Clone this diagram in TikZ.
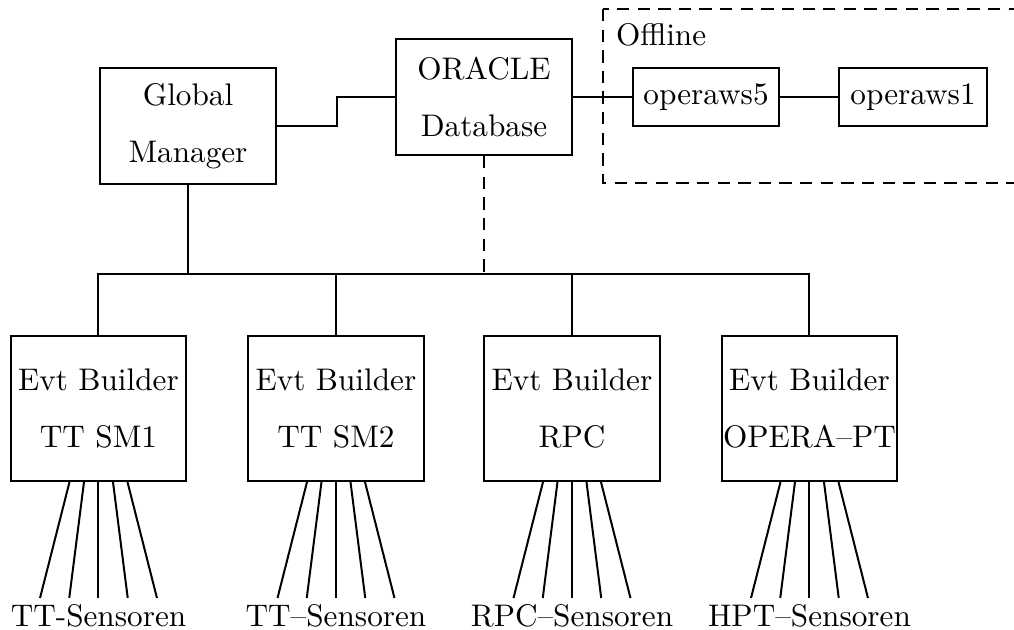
\documentclass[tikz,border=0pt]{standalone}
\begin{document}
\begin{tikzpicture}[x=0.325pt,y=-0.325pt,line width=0.65pt,
  every node/.style={font=\fontsize{10.15pt}{12.2pt}\selectfont},
  box/.style={draw,inner sep=0pt,align=center},
  bigbox/.style={box,minimum width=57.2pt,minimum height=37.8pt},
  evtbox/.style={box,minimum width=56.9pt,minimum height=47.1pt},
  smallbox/.style={box,minimum height=18.9pt},
  sens/.style={inner sep=1.63pt,anchor=north},
  dsh/.style={dash pattern=on 4pt off 2.7pt}]
\useasboundingbox (0,0) rectangle (1014,630);
\clip (0,0) rectangle (1014,630);
% offline region
\draw[dsh] (603,9) rectangle (1040,183);
\node[anchor=west,inner sep=0pt] (offl) at (615,35) {Offline};
% main nodes
\node[bigbox] (GM) at (188,126) {Global\\[6.3pt]Manager};
\node[bigbox] (OR) at (484,97) {ORACLE\\[6.3pt]Database};
\node[smallbox,minimum width=47.5pt] (ow5) at (706,97) {operaws5};
\node[smallbox,minimum width=48.1pt] (ow1) at (913,97) {operaws1};
\node[evtbox] (EB1) at (98.5,408.5) {Evt Builder\\[6.3pt]TT SM1};
\node[evtbox] (EB2) at (336,408.5) {Evt Builder\\[6.3pt]TT SM2};
\node[evtbox] (EB3) at (572,408.5) {Evt Builder\\[6.3pt]RPC};
\node[evtbox] (EB4) at (809.5,408.5) {Evt Builder\\[6.3pt]OPERA--PT};
% sensor labels
\node[sens] (S1) at (98.5,598) {TT-Sensoren};
\node[sens] (S2) at (336,598) {TT--Sensoren};
\node[sens] (S3) at (572,598) {RPC--Sensoren};
\node[sens] (S4) at (809.5,598) {HPT--Sensoren};
% connectors
\coordinate (bus) at (0,274);
\draw (GM.east) -- ++(60,0) |- (OR.west);
\draw (OR.east) -- (ow5.west);
\draw (ow5.east) -- (ow1.west);
\draw (GM.south) -- (GM.south |- bus);
\draw[dsh] (OR.south) -- (OR.south |- bus);
\draw (EB1.north) -- (EB1.north |- bus) -- (EB4.north |- bus) -- (EB4.north);
\draw (EB2.north) -- (EB2.north |- bus);
\draw (EB3.north) -- (EB3.north |- bus);
\foreach \k in {1,2,3,4}{
  \foreach \i in {-2,...,2}{
    \draw ([xshift=\i*4.71pt]EB\k.south) -- ([xshift=\i*9.5pt]S\k.north);
  }
}
\end{tikzpicture}
\end{document}
